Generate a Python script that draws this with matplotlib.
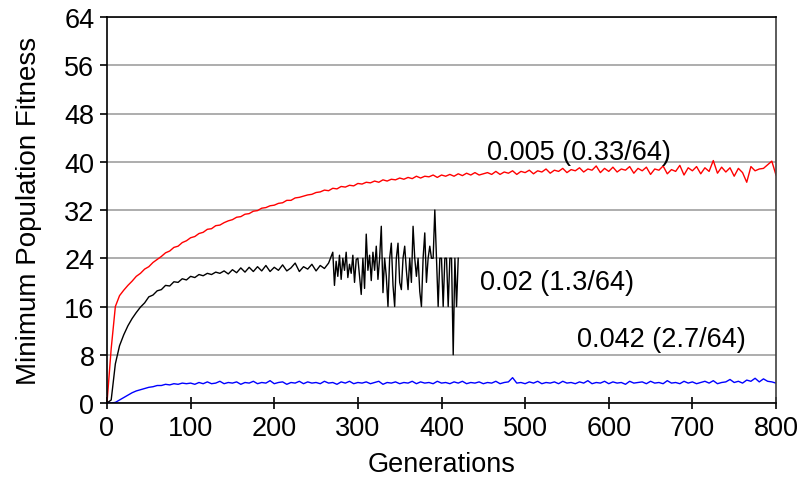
import numpy as np
import matplotlib
matplotlib.use("Agg")
import matplotlib.pyplot as plt

plt.rcParams['font.family'] = ['Liberation Sans', 'DejaVu Sans']

# Generations sampled for red / blue series (every 5 generations)
gen_step5 = np.arange(0, 801, 5)

red_005 = [
    0.0, 9.0, 16.0, 17.8, 18.7, 19.5, 20.2, 21.0, 21.5, 22.2,
    22.6, 23.3, 23.8, 24.3, 24.9, 25.2, 25.8, 26.0, 26.6, 26.9,
    27.4, 27.6, 28.1, 28.3, 28.8, 28.9, 29.4, 29.5, 29.9, 30.2,
    30.4, 30.8, 30.9, 31.3, 31.4, 31.8, 31.9, 32.3, 32.4, 32.7,
    32.8, 33.1, 33.2, 33.6, 33.6, 34.0, 34.1, 34.3, 34.5, 34.6,
    34.9, 35.0, 35.3, 35.2, 35.6, 35.5, 35.9, 35.8, 36.1, 36.0,
    36.4, 36.3, 36.6, 36.5, 36.8, 36.6, 37.0, 36.8, 37.1, 37.0,
    37.3, 37.1, 37.4, 37.2, 37.6, 37.3, 37.6, 37.5, 37.8, 37.4,
    37.8, 37.6, 37.9, 37.6, 38.0, 37.7, 38.1, 37.8, 38.2, 37.8,
    38.0, 38.2, 37.9, 38.4, 37.9, 38.3, 38.1, 38.5, 37.9, 38.4,
    38.2, 38.6, 38.0, 38.5, 38.3, 38.8, 38.1, 38.6, 38.4, 38.9,
    38.2, 38.7, 38.5, 39.0, 38.3, 38.8, 38.6, 39.3, 38.2, 38.9,
    38.4, 39.1, 38.3, 38.8, 38.6, 39.2, 38.1, 38.9, 38.5, 39.1,
    37.9, 38.8, 38.6, 39.3, 38.0, 38.7, 38.4, 39.4, 37.8, 39.0,
    38.5, 39.2, 38.0, 39.0, 38.4, 40.2, 38.1, 39.1, 38.3, 39.0,
    37.6, 38.9, 38.2, 36.6, 39.2, 38.5, 38.8, 38.9, 39.5, 40.1,
    37.8,
]

blue_042 = [
    0.0, 0.0, 0.1, 0.5, 0.9, 1.3, 1.7, 2.0, 2.2, 2.4,
    2.6, 2.7, 2.9, 2.9, 3.1, 3.0, 3.2, 3.1, 3.3, 3.2,
    3.3, 3.1, 3.4, 3.2, 3.5, 3.2, 3.3, 3.6, 3.2, 3.4,
    3.3, 3.5, 3.1, 3.4, 3.3, 3.6, 3.2, 3.4, 3.3, 3.7,
    3.2, 3.4, 3.5, 3.1, 3.4, 3.3, 3.6, 3.2, 3.5, 3.3,
    3.4, 3.2, 3.6, 3.3, 3.4, 3.1, 3.5, 3.3, 3.6, 3.2,
    3.4, 3.3, 3.5, 3.2, 3.4, 3.6, 3.1, 3.4, 3.3, 3.5,
    3.2, 3.4, 3.3, 3.6, 3.2, 3.5, 3.3, 3.4, 3.2, 3.6,
    3.3, 3.4, 3.2, 3.5, 3.3, 3.6, 3.2, 3.4, 3.3, 3.5,
    3.2, 3.4, 3.3, 3.6, 3.2, 3.4, 3.5, 4.2, 3.3, 3.4,
    3.2, 3.5, 3.3, 3.6, 3.2, 3.4, 3.3, 3.5, 3.2, 3.6,
    3.3, 3.4, 3.2, 3.5, 3.3, 3.7, 3.2, 3.4, 3.3, 3.6,
    3.2, 3.5, 3.3, 3.4, 3.1, 3.6, 3.3, 3.4, 3.5, 3.2,
    3.6, 3.3, 3.4, 3.2, 3.7, 3.3, 3.4, 3.2, 3.6, 3.3,
    3.5, 3.2, 3.4, 3.6, 3.3, 3.7, 3.2, 3.4, 3.5, 3.9,
    3.4, 3.6, 3.3, 3.8, 3.6, 4.1, 3.5, 4.0, 3.6, 3.5,
    3.3,
]

# Black series: every 5 generations up to 265, then every 2 generations to 420
gen_black_early = np.arange(0, 266, 5)
black_02_early = [
    0.0, 0.5, 6.5, 9.5, 11.3, 12.8, 14.0, 15.0, 15.9, 16.6,
    17.6, 17.9, 18.6, 18.8, 19.5, 19.4, 20.1, 20.0, 20.6, 20.4,
    21.0, 20.8, 21.3, 21.1, 21.5, 21.3, 21.7, 21.5, 21.9, 21.4,
    22.1, 21.6, 22.4, 21.7, 22.5, 21.8, 22.6, 21.9, 22.8, 21.8,
    22.5, 22.0, 22.9, 21.9, 22.4, 23.2, 21.8, 22.6, 22.2, 23.0,
    21.9, 22.8, 22.3, 23.2,
]
gen_black_late = np.arange(270, 421, 2)
black_02_late = [
    25.0, 19.5, 23.5, 21.0, 24.5, 20.5, 24.0, 22.0, 25.0, 20.8,
    23.0, 21.5, 24.5, 20.0, 23.8, 24.0, 21.0, 18.0, 24.0, 19.0,
    28.0, 22.0, 24.5, 20.3, 25.0, 22.0, 26.0, 20.5, 24.0, 29.3,
    18.3, 24.0, 21.0, 16.0, 24.0, 26.5, 19.5, 16.0, 24.0, 26.5,
    20.0, 18.8, 24.0, 26.0, 22.0, 18.8, 24.0, 20.0, 29.3, 24.0,
    21.0, 24.0, 18.5, 16.0, 24.0, 28.2, 20.0, 24.0, 26.0, 24.0,
    24.0, 32.0, 24.0, 16.0, 24.0, 24.0, 16.0, 24.0, 24.0, 16.0,
    24.0, 24.0, 8.0, 24.0, 16.0, 24.0,
]

labels = ["0.005 (0.33/64)", "0.02 (1.3/64)", "0.042 (2.7/64)"]
y_ticks = [0, 8, 16, 24, 32, 40, 48, 56, 64]
x_ticks = [0, 100, 200, 300, 400, 500, 600, 700, 800]

fig = plt.figure(figsize=(7.98, 4.81), dpi=100)
ax = fig.add_axes([107/798, 1 - 404/481, (776-107)/798, (404-18)/481])

ax.plot(gen_step5, red_005, color='#ff0000', lw=1.0)
ax.plot(np.concatenate([gen_black_early, gen_black_late]),
        black_02_early + black_02_late, color='black', lw=1.0)
ax.plot(gen_step5, blue_042, color='#0000ff', lw=1.0)

ax.set_xlim(0, 800)
ax.set_ylim(0, 64)
ax.set_xticks(x_ticks)
ax.set_yticks(y_ticks)
ax.yaxis.grid(True, color='#a0a0a0', lw=1.2)
ax.set_axisbelow(True)

for s in ['left', 'bottom', 'top']:
    ax.spines[s].set_color('black')
    ax.spines[s].set_linewidth(1.2)
ax.spines['right'].set_color('#404040')
ax.spines['right'].set_linewidth(1.2)

ax.tick_params(axis='x', direction='inout', length=8, width=1.2, labelsize=19.5, pad=5)
ax.tick_params(axis='y', direction='out', length=5, width=1.2, labelsize=19.5, pad=4)

ax.set_xlabel("Generations", fontsize=19.5, labelpad=7)
ax.set_ylabel("Minimum Population Fitness", fontsize=20, labelpad=16)

ax.text(455, 41.6, labels[0], fontsize=19.5, va='center', ha='left')
ax.text(446, 20.0, labels[1], fontsize=19.5, va='center', ha='left')
ax.text(562, 10.6, labels[2], fontsize=19.5, va='center', ha='left')

fig.savefig("out.png", dpi=100)
